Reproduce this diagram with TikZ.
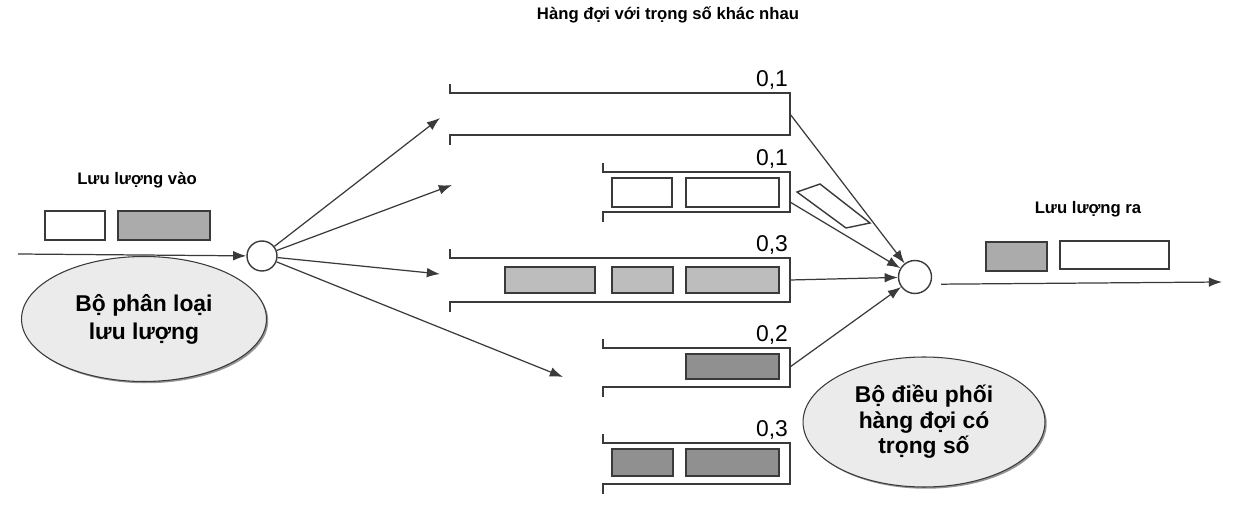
\documentclass[tikz,border=0pt]{standalone}
\usepackage{fontspec}
\setmainfont{Liberation Sans}
\usetikzlibrary{arrows.meta,shapes.geometric,shadows}
\definecolor{ink}{HTML}{3A3A3A}
\definecolor{bubblefill}{HTML}{EBEBEB}
\definecolor{pktlight}{HTML}{BDBDBD}
\definecolor{pktmid}{HTML}{ABABAB}
\definecolor{pktdark}{HTML}{909090}
\tikzset{
  que/.style={draw=ink, line width=0.8pt},
  pkt/.style={draw=ink, line width=0.8pt},
  flow/.style={draw=ink, line width=0.7pt, -{Latex[length=7.5pt,width=5.5pt]}},
  hub/.style={circle, draw=ink, line width=0.8pt, fill=white, minimum size=0.6cm, inner sep=0pt},
  bubble/.style={ellipse, draw=ink, line width=0.6pt, fill=bubblefill, align=center, inner sep=0pt,
    drop shadow={shadow xshift=1pt, shadow yshift=-1pt, fill=black!70, opacity=0.6}},
  captext/.style={font=\bfseries\fontsize{9.5}{11}\selectfont},
  wlab/.style={font=\fontsize{13}{14}\selectfont, inner sep=1pt},
}

\begin{document}
\begin{tikzpicture}[x=0.02cm, y=-0.02cm]
  \useasboundingbox (0,0) rectangle (1240,509);

  % captions
  \node[captext] (title) at (668,15) {Hàng đợi với trọng số khác nhau};
  \node[captext] (inlab) at (137,180) {Lưu lượng vào};
  \node[captext] (outlab) at (1088,209) {Lưu lượng ra};

  % queues with their weights
  \foreach \xl/\yt/\yb/\yo/\w/\n in {450/93/135/114/{0,1}/q1, 603/172/212/202/{0,1}/q2,
      450/258/302/280/{0,3}/q3, 603/348/387/367/{0,2}/q4, 603/443/484/463/{0,3}/q5}{
    \draw[que] (\xl,\yt-9) -- (\xl,\yt) -- (790,\yt) -- (790,\yb) -- (\xl,\yb) -- (\xl,\yb+10);
    \node[wlab, anchor=base east] at (790,\yt-6) {\w};
    \coordinate (\n) at (790,\yo);
  }

  % packets
  \foreach \xa/\ya/\xb/\yb/\c in {45/211/105/240/white, 118/211/210/240/pktmid,
      612/178/672/207/white, 686/178/779/207/white,
      505/267/595/293/pktlight, 612/267/673/293/pktlight, 686/267/779/293/pktlight,
      686/354/779/379/pktdark,
      612/449/673/476/pktdark, 686/449/779/476/pktdark,
      986/242/1047/271/pktmid, 1060/241/1169/269/white}
    \draw[pkt, fill=\c] (\xa,\ya) rectangle (\xb,\yb);
  \draw[pkt, fill=white] (797,192) -- (820,184) -- (870,223) -- (846,228) -- cycle;

  % classifier and scheduler
  \node[hub] (cls) at (262,256) {};
  \node[hub, minimum size=0.66cm] (sch) at (915,277) {};

  \coordinate (src) at (18,254);
  \coordinate (dst) at (1222,282);
  \coordinate (t1) at (440,118);
  \coordinate (t2) at (452,185);
  \coordinate (t3) at (440,274);
  \coordinate (t4) at (563,377);

  \draw[flow] (src) -- (cls);
  \foreach \t in {t1,t2,t3,t4}
    \draw[flow] (cls) -- (\t);
  \foreach \q in {q1,q2,q3,q4}
    \draw[flow] (\q) -- (sch);
  \draw[flow, shorten <=6pt] (sch.-25) -- (dst);

  \node[bubble, minimum width=4.9cm, minimum height=2.5cm, font=\bfseries\fontsize{13}{16}\selectfont] (clsbox) at (144,319) {Bộ phân loại\\lưu lượng};
  \node[bubble, minimum width=4.84cm, minimum height=2.6cm, font=\bfseries\fontsize{13}{14.5}\selectfont] (schbox) at (924,422) {Bộ điều phối\\hàng đợi có\\trọng số};
\end{tikzpicture}
\end{document}
